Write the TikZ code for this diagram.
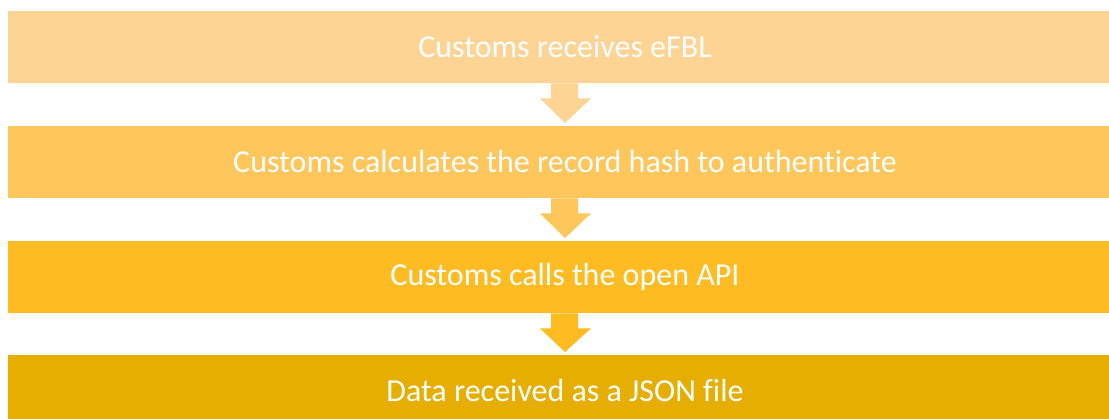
\documentclass[tikz,border=0pt]{standalone}
\usepackage{fontspec}
\setmainfont{Carlito}[Ligatures={NoCommon}]
\usetikzlibrary{calc}
\definecolor{c1}{HTML}{FED494}
\definecolor{c2}{HTML}{FFC65B}
\definecolor{c3}{HTML}{FEBC22}
\definecolor{c4}{HTML}{E6AE00}
\begin{document}
\begin{tikzpicture}[x=1pt,y=-1pt,
  stepbox/.style={draw=none,minimum width=1114pt,minimum height=72pt,inner sep=0pt,anchor=north west},
  steptext/.style={text=white,inner sep=0pt,font=\fontsize{32}{36}\selectfont},
]
\useasboundingbox (0,0) rectangle (1109,419);
\begin{scope}
\clip (0,0) rectangle (1109,419);
\node[stepbox,fill=c1] (b1) at (8,11) {};
\node[stepbox,fill=c2] (b2) at (8,126) {};
\node[stepbox,fill=c3] (b3) at (8,241) {};
\node[stepbox,fill=c4] (b4) at (8,355) {};
\end{scope}
\node[steptext] (t1) at (565,47) {Customs receives eFBL};
\node[steptext] (t2) at (565,162) {Customs calculates the record hash to authenticate};
\node[steptext] (t3) at (565,277) {Customs calls the open API};
\node[steptext] (t4) at (565,391) {Data received as a JSON file};
\foreach \a/\b/\c in {b1/b2/c1,b2/b3/c2,b3/b4/c3}{
  \fill[\c] (551,0 |- \a.south) -- (578,0 |- \a.south) -- ($(578,0 |- \a.south)+(0,15)$)
    -- ($(591,0 |- \a.south)+(0,15)$) -- ($(565,0 |- \b.north)+(0,-3)$)
    -- ($(540,0 |- \a.south)+(0,15)$) -- ($(551,0 |- \a.south)+(0,15)$) -- cycle;
}
\end{tikzpicture}
\end{document}
